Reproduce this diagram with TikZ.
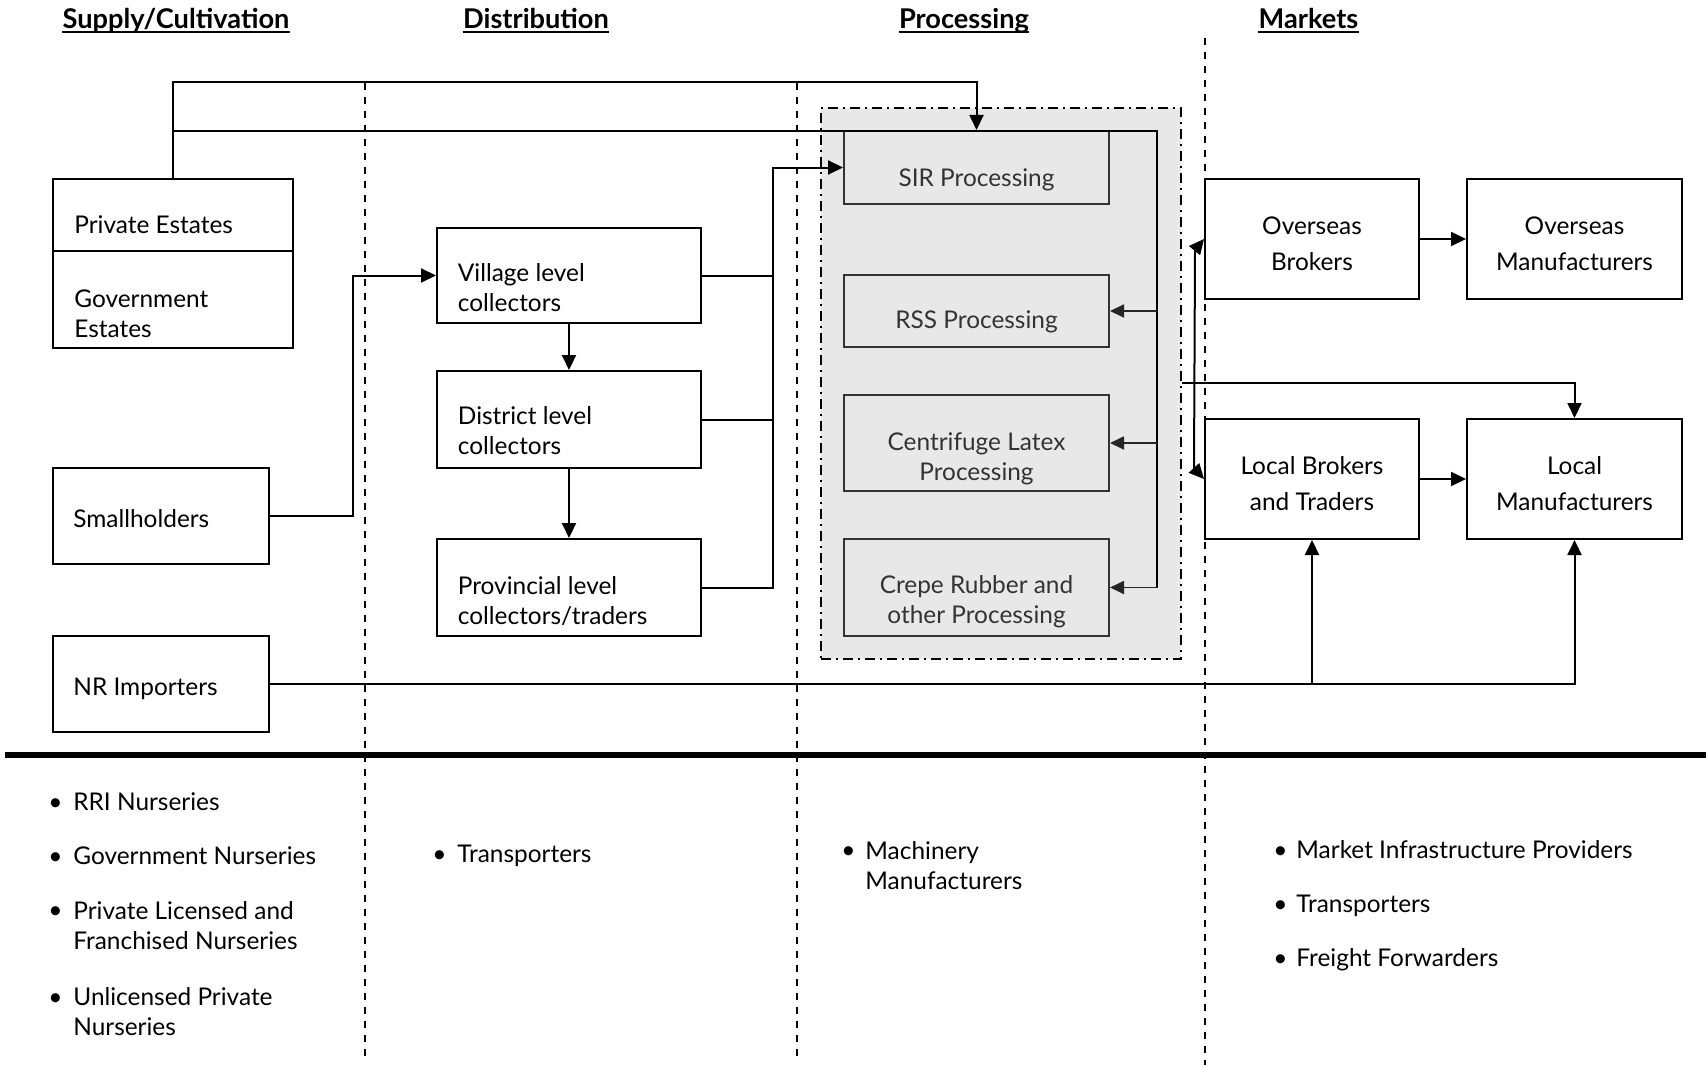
\documentclass[tikz,border=0pt]{standalone}
\usepackage{fontspec}
\setmainfont{Lato}
\usetikzlibrary{arrows.meta,fit,calc}
\begin{document}
\begin{tikzpicture}[x=0.5pt,y=-0.5pt,
  font=\fontsize{12.2}{15}\selectfont,
  box/.style={draw, line width=1pt, inner sep=0pt},
  pbox/.style={draw=black!80, line width=1pt, inner sep=0pt},
  txt/.style={inner sep=0pt, anchor=base west, align=left},
  ctxt/.style={inner sep=0pt, anchor=base, align=center},
  ptxt/.style={ctxt, text=black!80},
  rtxt/.style={ctxt, font=\fontsize{12.2}{18}\selectfont},
  hdr/.style={inner sep=0pt, anchor=base, font=\bfseries\fontsize{13.6}{15}\selectfont},
  conn/.style={line width=1pt},
  tip/.tip={Triangle[length=7.5pt,width=7pt]},
  arr/.style={conn, -tip},
  parr/.style={line width=0.9pt, draw=black!85, -{Triangle[length=7pt,width=6.5pt]}},
  vdash/.style={line width=0.8pt, dash pattern=on 3.5pt off 3.5pt},
  bul/.style={inner sep=0pt, anchor=base west}
]
\useasboundingbox (0,0) rectangle (1706,1065);
\fill[white] (0,0) rectangle (1706,1065);

% headers
\node[hdr] (h1) at (176,29) {Supply/Cultivation};
\node[hdr] (h2) at (536,29) {Distribution};
\node[hdr] (h3) at (964,29) {Processing};
\node[hdr] (h4) at (1308.5,29) {Markets};
\foreach \h in {h1,h2,h3,h4}
  \draw[line width=1pt] ($(\h.base west)+(0,3.5)$) -- ($(\h.base east)+(0,3.5)$);

% processing container
\node[draw, fill=black!9, line width=1.1pt, inner sep=0pt,
      dash pattern=on 5pt off 2.5pt on 1pt off 2.5pt,
      fit={(821,108)(1181,659)}] (proc) {};

% column separators
\draw[vdash] (365,83) -- (365,1056);
\draw[vdash] (797,83) -- (797,1056);
\draw[vdash] (1205,38) -- (1205,1065);
\draw[line width=3.3pt] (5,755) -- (1706,755);

% boxes
\node[box, fit={(53,179)(293,251)}] (pe) {};
\node[box, fit={(53,251)(293,348)}] (ge) {};
\node[box, fit={(53,468)(269,564)}] (sm) {};
\node[box, fit={(53,636)(269,732)}] (nr) {};
\node[box, fit={(437,228)(701,323)}] (vl) {};
\node[box, fit={(437,371)(701,468)}] (dl) {};
\node[box, fit={(437,539)(701,636)}] (pl) {};
\node[pbox, fit={(844,131)(1109,204)}] (sir) {};
\node[pbox, fit={(844,275)(1109,347)}] (rss) {};
\node[pbox, fit={(844,395)(1109,491)}] (cl) {};
\node[pbox, fit={(844,539)(1109,636)}] (cr) {};
\node[box, fit={(1205,179)(1419,299)}] (ob) {};
\node[box, fit={(1467,179)(1682,299)}] (om) {};
\node[box, fit={(1205,419)(1419,539)}] (lb) {};
\node[box, fit={(1467,419)(1682,539)}] (lm) {};

% box texts (multi-line nodes: base = last line)
\node[txt] (tpe) at (74,233) {Private Estates};
\node[txt] (tge) at (74,337) {Government\\Estates};
\node[txt] (tsm) at (73,527) {Smallholders};
\node[txt] (tnr) at (73,695) {NR Importers};
\node[txt] (tvl) at (457.5,311) {Village level\\collectors};
\node[txt] (tdl) at (457.5,454) {District level\\collectors};
\node[txt] (tpl) at (457.5,624) {Provincial level\\collectors/traders};
\node[ptxt] (tsir) at (976.5,186) {SIR Processing};
\node[ptxt] (trss) at (976.5,328) {RSS Processing};
\node[ptxt] (tcl) at (976.5,480) {Centrifuge Latex\\Processing};
\node[ptxt] (tcr) at (976.5,623) {Crepe Rubber and\\other Processing};
\node[rtxt] (tob) at (1312,270) {Overseas\\Brokers};
\node[rtxt] (tom) at (1574.5,270) {Overseas\\Manufacturers};
\node[rtxt] (tlb) at (1312,510) {Local Brokers\\and Traders};
\node[rtxt] (tlm) at (1574.5,510) {Local\\Manufacturers};

% connectors
\coordinate (bus) at (1157,131);
\coordinate (j1) at (353,0);
\coordinate (j2) at (773,0);
\coordinate (j3) at (0,383);
\draw[arr] (pe.north) -- ++(0,-96) -| (sir.north);
\draw[conn] (pe.north |- bus) -- (bus) -- (bus |- cr.east);
\draw[parr] (bus |- rss.east) -- (rss.east);
\draw[parr] (bus |- cl.east) -- (cl.east);
\draw[parr] (bus |- cr.east) -- (cr.east);

\draw[arr] (sm.east) -- (sm.east -| j1) |- (vl.west);
\draw[arr] (vl.south) -- (dl.north);
\draw[arr] (dl.south) -- (pl.north);
\draw[conn] (vl.east) -- (vl.east -| j2);
\draw[conn] (dl.east) -- (dl.east -| j2);
\draw[arr] (pl.east) -| (j2 |- sir.west) -- (sir.west);

\draw[arr] (proc.east |- j3) -| (lm.north);
\draw[conn, tip-tip] (ob.west) -- (1195,250) -- (1194,468) -- (lb.west);
\draw[arr] (ob.east) -- (om.west);
\draw[arr] (lb.east) -- (lm.west);
\draw[arr] (nr.east) -| (lm.south);
\draw[arr] (nr.east -| lb.south) -- (lb.south);

% bottom lists
\node[bul] (b1) at (48,810) {•};
\node[txt] (l1) at (73,810) {RRI Nurseries};
\node[bul] (b2) at (48,864) {•};
\node[txt] (l2) at (73,864) {Government Nurseries};
\node[bul] (b3) at (48,918) {•};
\node[txt] (l3) at (73,949) {Private Licensed and\\Franchised Nurseries};
\node[bul] (b4) at (48,1005) {•};
\node[txt] (l4) at (73,1035) {Unlicensed Private\\Nurseries};

\node[bul] (b5) at (432,862) {•};
\node[txt] (l5) at (457,862) {Transporters};

\node[bul] (b6) at (841,858) {•};
\node[txt] (l6) at (865,889) {Machinery\\Manufacturers};

\node[bul] (b7) at (1273,858) {•};
\node[txt] (l7) at (1296,858) {Market Infrastructure Providers};
\node[bul] (b8) at (1273,912) {•};
\node[txt] (l8) at (1296,912) {Transporters};
\node[bul] (b9) at (1273,966) {•};
\node[txt] (l9) at (1296,966) {Freight Forwarders};
\end{tikzpicture}
\end{document}
